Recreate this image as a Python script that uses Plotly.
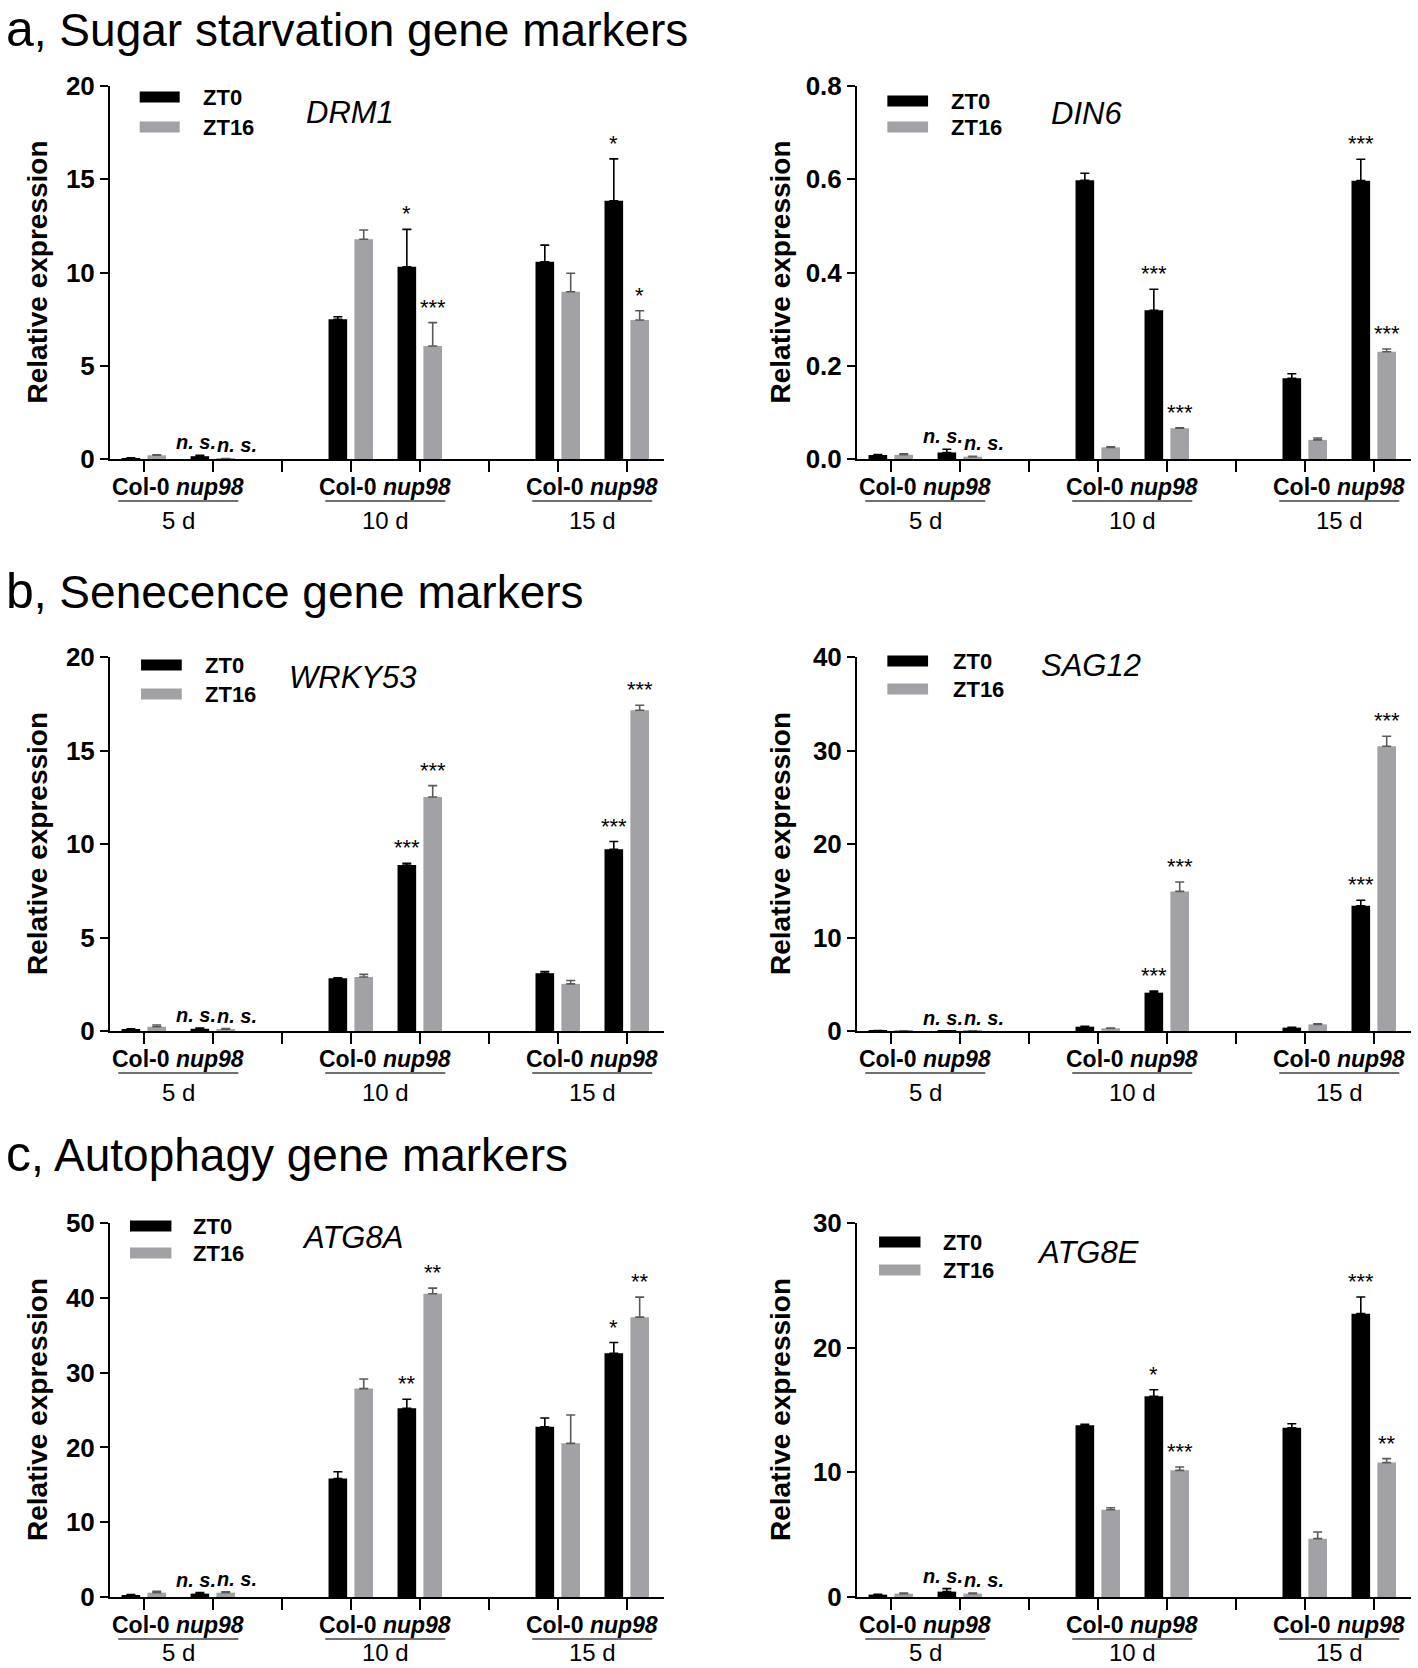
import plotly.graph_objects as go

W, H = 1418, 1668
BLACK = "#000000"
GRAY = "#a2a2a6"
GRAY_ERR = "#5a5a5a"
FONT = "Liberation Sans, Arial, sans-serif"

# ---------------- data ----------------
days = ["5 d", "10 d", "15 d"]
genotypes = ["Col-0", "nup98"]
series_names = ["ZT0", "ZT16"]
# slots along the x axis: Col-0 / nup98 for each day, empty slot between days
bar_x = [0, 1, 3, 4, 6, 7]
tick_x = [0, 1, 2, 3, 4, 5, 6, 7]
day_centers = [0.5, 3.5, 6.5]

# order of values: 5d Col-0, 5d nup98, 10d Col-0, 10d nup98, 15d Col-0, 15d nup98
drm1_zt0 = [0.05, 0.15, 7.49, 10.31, 10.58, 13.85]
drm1_zt0_err = [0.01, 0.05, 0.14, 2.00, 0.89, 2.24]
drm1_zt16 = [0.20, 0.02, 11.78, 6.06, 8.97, 7.45]
drm1_zt16_err = [0.03, 0.01, 0.50, 1.25, 0.99, 0.50]
drm1_sig_zt0 = ["", "n. s.", "", "*", "", "*"]
drm1_sig_zt16 = ["", "n. s.", "", "***", "", "*"]

din6_zt0 = [0.0086, 0.014, 0.598, 0.319, 0.173, 0.597]
din6_zt0_err = [0.001, 0.007, 0.015, 0.045, 0.010, 0.046]
din6_zt16 = [0.009, 0.005, 0.025, 0.066, 0.041, 0.230]
din6_zt16_err = [0.002, 0.001, 0.001, 0.001, 0.004, 0.006]
din6_sig_zt0 = ["", "n. s.", "", "***", "", "***"]
din6_sig_zt16 = ["", "n. s.", "", "***", "", "***"]

wrky53_zt0 = [0.10, 0.12, 2.82, 8.88, 3.09, 9.72]
wrky53_zt0_err = [0.02, 0.04, 0.03, 0.09, 0.09, 0.41]
wrky53_zt16 = [0.23, 0.10, 2.89, 12.51, 2.52, 17.15]
wrky53_zt16_err = [0.09, 0.03, 0.14, 0.61, 0.18, 0.27]
wrky53_sig_zt0 = ["", "n. s.", "", "***", "", "***"]
wrky53_sig_zt16 = ["", "n. s.", "", "***", "", "***"]

sag12_zt0 = [0.03, 0.02, 0.46, 4.10, 0.36, 13.39]
sag12_zt0_err = [0.01, 0.01, 0.05, 0.18, 0.03, 0.60]
sag12_zt16 = [0.02, 0.02, 0.29, 14.93, 0.71, 30.46]
sag12_zt16_err = [0.01, 0.01, 0.03, 1.00, 0.07, 1.07]
sag12_sig_zt0 = ["", "n. s.", "", "***", "", "***"]
sag12_sig_zt16 = ["", "n. s.", "", "***", "", "***"]

atg8a_zt0 = [0.27, 0.45, 15.85, 25.22, 22.77, 32.59]
atg8a_zt0_err = [0.05, 0.13, 0.89, 1.21, 1.16, 1.43]
atg8a_zt16 = [0.58, 0.58, 27.86, 40.54, 20.54, 37.41]
atg8a_zt16_err = [0.18, 0.10, 1.29, 0.76, 3.79, 2.68]
atg8a_sig_zt0 = ["", "n. s.", "", "**", "", "*"]
atg8a_sig_zt16 = ["", "n. s.", "", "**", "", "**"]

atg8e_zt0 = [0.19, 0.43, 13.77, 16.10, 13.58, 22.73]
atg8e_zt0_err = [0.03, 0.24, 0.08, 0.53, 0.32, 1.34]
atg8e_zt16 = [0.27, 0.27, 7.00, 10.16, 4.68, 10.78]
atg8e_zt16_err = [0.05, 0.05, 0.16, 0.27, 0.53, 0.32]
atg8e_sig_zt0 = ["", "n. s.", "", "*", "", "***"]
atg8e_sig_zt16 = ["", "n. s.", "", "***", "", "**"]

headings = ["Sugar starvation gene markers", "Senecence gene markers", "Autophagy gene markers"]
heading_letters = ["a", "b", "c"]

panels = [
    dict(gene="DRM1", zt0=drm1_zt0, e0=drm1_zt0_err, zt16=drm1_zt16, e16=drm1_zt16_err,
         s0=drm1_sig_zt0, s16=drm1_sig_zt16, ymax=20, dtick=5, fmt="d"),
    dict(gene="DIN6", zt0=din6_zt0, e0=din6_zt0_err, zt16=din6_zt16, e16=din6_zt16_err,
         s0=din6_sig_zt0, s16=din6_sig_zt16, ymax=0.8, dtick=0.2, fmt=".1f"),
    dict(gene="WRKY53", zt0=wrky53_zt0, e0=wrky53_zt0_err, zt16=wrky53_zt16, e16=wrky53_zt16_err,
         s0=wrky53_sig_zt0, s16=wrky53_sig_zt16, ymax=20, dtick=5, fmt="d"),
    dict(gene="SAG12", zt0=sag12_zt0, e0=sag12_zt0_err, zt16=sag12_zt16, e16=sag12_zt16_err,
         s0=sag12_sig_zt0, s16=sag12_sig_zt16, ymax=40, dtick=10, fmt="d"),
    dict(gene="ATG8A", zt0=atg8a_zt0, e0=atg8a_zt0_err, zt16=atg8a_zt16, e16=atg8a_zt16_err,
         s0=atg8a_sig_zt0, s16=atg8a_sig_zt16, ymax=50, dtick=10, fmt="d"),
    dict(gene="ATG8E", zt0=atg8e_zt0, e0=atg8e_zt0_err, zt16=atg8e_zt16, e16=atg8e_zt16_err,
         s0=atg8e_sig_zt0, s16=atg8e_sig_zt16, ymax=30, dtick=10, fmt="d"),
]

# ---------------- layout (pixels) ----------------
col_px = [(110, 664), (857, 1411)]
row_px = [(86, 459), (657, 1031), (1223, 1597)]
day_label_shift = [-61, -61, -55]
ytitle_px = [37, 780]
heading_y = [29, 591, 1154]
# legend box x0, x1, text x (data units), legend row offsets from top (px), gene x (units), gene offset (px)
legend_cfg = [
    (-0.06, 0.52, 0.83, 11, 41, 2.99, 26),
    (-0.05, 0.54, 0.84, 15, 41, 2.84, 27),
    (-0.04, 0.55, 0.86, 8, 37, 3.03, 20),
    (-0.05, 0.54, 0.87, 4, 32, 2.90, 8),
    (-0.20, 0.40, 0.69, 3, 30, 3.02, 14),
    (-0.17, 0.43, 0.73, 19, 47, 2.86, 29),
]
XR = [-0.49, 7.54]
OFF = 0.1875

fig = go.Figure()
annotations = []
shapes = []

for i, p in enumerate(panels):
    k = i + 1
    row, col = divmod(i, 2)
    xa = "x" if k == 1 else f"x{k}"
    ya = "y" if k == 1 else f"y{k}"
    for name, vals, errs, color, ecolor in [
        (series_names[0], p["zt0"], p["e0"], BLACK, BLACK),
        (series_names[1], p["zt16"], p["e16"], GRAY, GRAY_ERR),
    ]:
        fig.add_trace(go.Bar(
            x=bar_x, y=vals, name=name, xaxis=xa, yaxis=ya, showlegend=False,
            marker=dict(color=color, line=dict(width=0)),
            error_y=dict(type="data", array=errs, arrayminus=[0] * len(errs), symmetric=False,
                         color=ecolor, thickness=1.6, width=4.5),
        ))
    x0, x1 = col_px[col]
    top, bot = row_px[row]
    lay_x = dict(domain=[x0 / W, x1 / W], range=XR, tickvals=tick_x, ticktext=[""] * len(tick_x),
                 showline=True, linecolor="black", linewidth=2, ticks="outside", ticklen=11,
                 tickwidth=2, tickcolor="black", showgrid=False, zeroline=False, anchor=ya,
                 fixedrange=True, automargin=False)
    lay_y = dict(domain=[1 - bot / H, 1 - top / H], range=[0, p["ymax"]], dtick=p["dtick"],
                 tickformat=p["fmt"], showline=True, linecolor="black", linewidth=2,
                 ticks="outside", ticklen=8, tickwidth=2, tickcolor="black", showgrid=False,
                 zeroline=False, anchor=xa, automargin=False, fixedrange=True,
                 tickfont=dict(family=FONT, size=26, color="black", weight="bold"))
    fig.update_layout({("xaxis" if k == 1 else f"xaxis{k}"): lay_x,
                       ("yaxis" if k == 1 else f"yaxis{k}"): lay_y})

    ydom = f"{ya} domain"
    # y title
    annotations.append(dict(text="Relative expression", xref="paper", x=ytitle_px[col] / W,
                            xanchor="center", yref=ydom, y=0.5, yanchor="middle",
                            textangle=-90, showarrow=False,
                            font=dict(family=FONT, size=28, color="black", weight="bold")))
    # genotype / day labels
    for dc, d in zip(day_centers, days):
        annotations.append(dict(text=f"{genotypes[0]} <i>{genotypes[1]}</i>", xref=xa, x=dc,
                                yref=ydom, y=0, yshift=-28, showarrow=False, yanchor="middle",
                                font=dict(family=FONT, size=23, color="black", weight="bold")))
        annotations.append(dict(text=d, xref=xa, x=dc, yref=ydom, y=0,
                                yshift=day_label_shift[row],
                                showarrow=False, yanchor="middle",
                                font=dict(family=FONT, size=24, color="black")))
        shapes.append(dict(type="line", xref=xa, x0=dc - 0.87, x1=dc + 0.87, yref=ydom,
                           ysizemode="pixel", yanchor=0, y0=-42, y1=-42,
                           line=dict(color="#404040", width=1.5)))
    # significance marks
    for j, bx in enumerate(bar_x):
        for s, vals, errs, sign in [(p["s0"][j], p["zt0"], p["e0"], -1),
                                    (p["s16"][j], p["zt16"], p["e16"], 1)]:
            if not s:
                continue
            top_v = vals[j] + errs[j]
            if s.startswith("n"):
                xx = bx + sign * OFF + (0.17 if sign > 0 else -0.05)
                annotations.append(dict(text=f"<i>{s}</i>", xref=xa, x=xx, yref=ya, y=top_v,
                                        yanchor="bottom", yshift=0, showarrow=False,
                                        font=dict(family=FONT, size=20, color="black", weight="bold")))
            else:
                annotations.append(dict(text=s, xref=xa, x=bx + sign * OFF, yref=ya, y=top_v,
                                        yanchor="bottom", yshift=1, showarrow=False,
                                        font=dict(family=FONT, size=22, color="black")))
    # legend and gene name
    bx0, bx1, tx, o0, o1, gx, go_ = legend_cfg[i]
    for off, color, name in [(o0, BLACK, series_names[0]), (o1, GRAY, series_names[1])]:
        shapes.append(dict(type="rect", xref=xa, x0=bx0, x1=bx1, yref=ydom, ysizemode="pixel",
                           yanchor=1, y0=-off + 5.5, y1=-off - 5.5, fillcolor=color,
                           line=dict(width=0)))
        annotations.append(dict(text=name, xref=xa, x=tx, xanchor="left", yref=ydom, y=1,
                                yshift=-off, yanchor="middle", showarrow=False,
                                font=dict(family=FONT, size=22, color="black", weight="bold")))
    annotations.append(dict(text=f"<i>{p['gene']}</i>", xref=xa, x=gx, yref=ydom, y=1,
                            yshift=-go_, yanchor="middle", showarrow=False,
                            font=dict(family=FONT, size=31, color="black")))

for letter, head, hy in zip(heading_letters, headings, heading_y):
    annotations.append(dict(text=f"<span style='font-size:50px'>{letter}</span>, {head}",
                            xref="paper", x=4 / W, xanchor="left", yref="paper", y=1 - hy / H,
                            yanchor="middle", showarrow=False,
                            font=dict(family=FONT, size=46, color="black")))

fig.update_layout(
    width=W, height=H, margin=dict(l=0, r=0, t=0, b=0, pad=0, autoexpand=False),
    paper_bgcolor="white", plot_bgcolor="white",
    barmode="group", bargap=0.25, bargroupgap=0.28,
    annotations=annotations, shapes=shapes, showlegend=False,
    font=dict(family=FONT, color="black"),
)

fig.write_html("out.html", config={"displayModeBar": False},
               post_script="document.body.style.margin='0';document.body.style.overflow='hidden';")
